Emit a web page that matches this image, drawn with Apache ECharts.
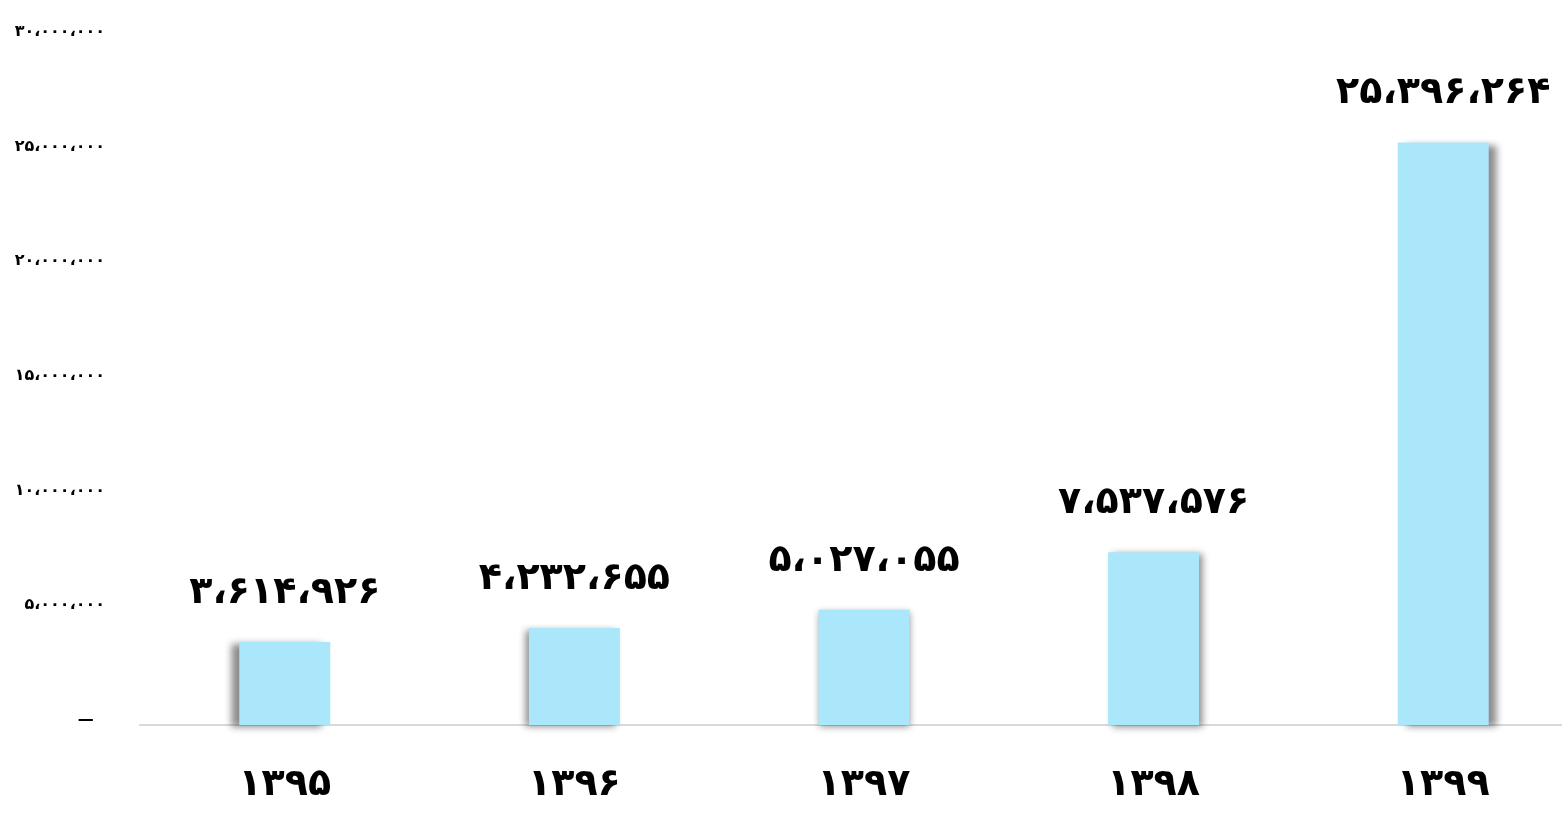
<!DOCTYPE html>
<html>
<head>
<meta charset="utf-8">
<script src="https://cdn.jsdelivr.net/npm/echarts@6/dist/echarts.min.js"></script>
<style>
html,body{margin:0;padding:0;background:#fff;}
#chart{width:1562px;height:836px;}
</style>
</head>
<body>
<div id="chart"></div>
<script>
// Data
const categories = ['1395', '1396', '1397', '1398', '1399'];
const values = [3614926, 4232655, 5027055, 7537576, 25396264];
const yTicks = [0, 5000000, 10000000, 15000000, 20000000, 25000000, 30000000];

// Styles (not data)
const shadowOffsets = [-8, -4, 0, 4, 8];

const faDigits = ['۰','۱','۲','۳','۴','۵','۶','۷','۸','۹'];
function toFa(s) { return String(s).replace(/[0-9]/g, d => faDigits[+d]); }
function fmt(n) {
  return toFa(String(n).replace(/\B(?=(\d{3})+(?!\d))/g, '،'));
}

const chart = echarts.init(document.getElementById('chart'));
chart.setOption({
  animation: false,
  backgroundColor: '#ffffff',
  grid: { left: 140, right: -26, top: 37, bottom: 111, containLabel: false, outerBoundsMode: 'none' },
  xAxis: {
    type: 'category',
    data: categories,
    axisLine: { show: true, lineStyle: { color: '#d9d9d9', width: 2 } },
    axisTick: { show: false },
    axisLabel: {
      formatter: v => toFa(v),
      fontFamily: 'DejaVu Sans',
      fontWeight: 'bold',
      fontSize: 38,
      color: '#000',
      margin: 41
    }
  },
  yAxis: {
    type: 'value',
    min: yTicks[0],
    max: yTicks[yTicks.length - 1],
    interval: yTicks[1] - yTicks[0],
    axisLine: { show: false },
    axisTick: { show: false },
    splitLine: { show: false },
    axisLabel: {
      formatter: v => v === 0 ? '—  ' : fmt(v),
      fontFamily: 'DejaVu Sans',
      fontWeight: 'bold',
      fontSize: 16,
      color: '#000',
      margin: 35,
      verticalAlign: 'bottom',
      lineHeight: 10
    }
  },
  series: [{
    type: 'bar',
    barWidth: 91,
    data: values.map((v, i) => ({
      value: v,
      itemStyle: {
        color: '#abe7fb',
        shadowColor: 'rgba(0,0,0,0.45)',
        shadowBlur: 7,
        shadowOffsetX: shadowOffsets[i],
        shadowOffsetY: 2
      }
    })),
    label: {
      show: true,
      position: 'top',
      distance: 30,
      formatter: p => fmt(p.value),
      fontFamily: 'DejaVu Sans',
      fontWeight: 'bold',
      fontSize: 38,
      color: '#000'
    }
  }]
});
</script>
</body>
</html>
